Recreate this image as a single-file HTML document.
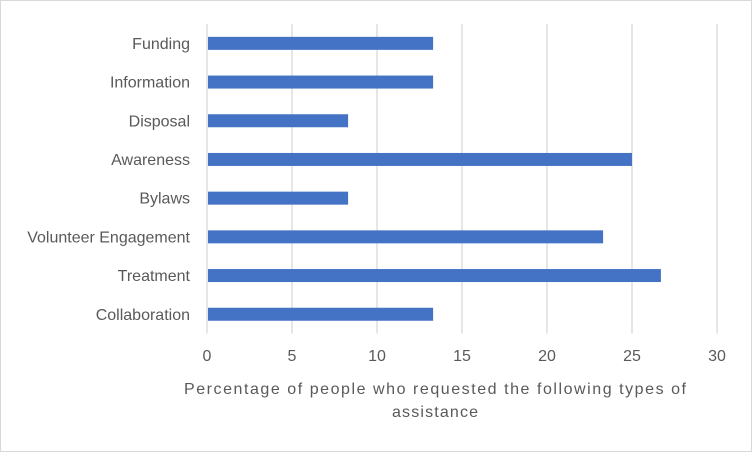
<!DOCTYPE html>
<html><head><meta charset="utf-8"><style>
body{margin:0;background:#fff}
svg{display:block;font-family:"Liberation Sans",sans-serif}
</style></head><body>
<svg width="752" height="452">
<rect x="0.5" y="0.5" width="751" height="451" fill="#fff" stroke="#d9d9d9"/>
<g id="grid"></g><g id="bars"></g><g id="labels"></g>
<text x="184" y="394" textLength="502" lengthAdjust="spacing" font-size="16" fill="#595959">Percentage of people who requested the following types of</text>
<text x="392" y="417" textLength="86" lengthAdjust="spacing" font-size="16" fill="#595959">assistance</text>
</svg>
<script>
const categories=["Funding","Information","Disposal","Awareness","Bylaws","Volunteer Engagement","Treatment","Collaboration"];
const values=[13.3,13.3,8.3,25,8.3,23.3,26.7,13.3];
const ticks=[0,5,10,15,20,25,30];
const NS="http://www.w3.org/2000/svg";
const x0=207,x1=717,yTop=24,yBottom=333.6,maxV=30;
const xs=v=>x0+(v/maxV)*(x1-x0);
const band=(yBottom-yTop)/categories.length;
const g=document.getElementById('grid'),b=document.getElementById('bars'),l=document.getElementById('labels');
function mk(tag,attrs,parent,text){const e=document.createElementNS(NS,tag);for(const k in attrs)e.setAttribute(k,attrs[k]);if(text!=null)e.textContent=text;parent.appendChild(e);return e;}
ticks.forEach(t=>{
 const ln=mk('line',{x1:xs(t),x2:xs(t),y1:yTop,y2:yBottom,stroke:'#d9d9d9','stroke-width':1.3},g);
 
 
 const tx=mk('text',{x:xs(t),y:361,'text-anchor':'middle','font-size':16,fill:'#595959'},l,String(t));
 
 
});
categories.forEach((c,i)=>{
 const cy=yTop+band*(i+0.5);
 const r=mk('rect',{x:xs(0)+1,y:cy-6.5,width:xs(values[i])-xs(0)-1,height:13,fill:'#4472c4'},b);
 
 
 const tx=mk('text',{x:190,y:cy+5.5,'text-anchor':'end','font-size':16,fill:'#595959'},l,c);
 
 
});
</script>
</body></html>
